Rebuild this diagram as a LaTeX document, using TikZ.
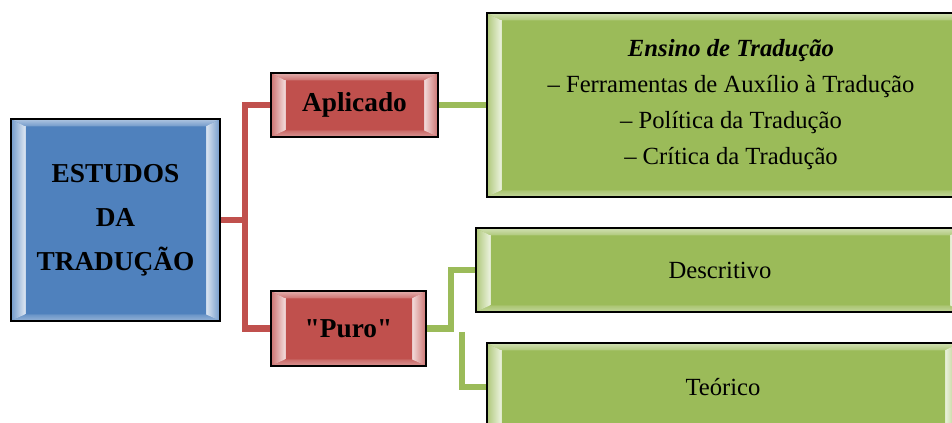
\documentclass[tikz,border=0pt]{standalone}
\usepackage{fontspec}
\setmainfont{Liberation Serif}
% same family without TeX ligature mapping, so that " stays a straight quote
\newfontfamily\plainserif{Liberation Serif}
\usetikzlibrary{calc,backgrounds}

\definecolor{bxblue}{HTML}{4F81BD}
\definecolor{bxred}{HTML}{C0504D}
\definecolor{bxgreen}{HTML}{9BBB59}

\tikzset{
  % rectangle with a bevelled frame: light top/bottom bands and side strips
  bevelbox/.style={rectangle, draw=black, line width=1.4pt, fill=#1,
    inner sep=0pt, align=center, text=black,
    path picture={
      \coordinate (bA) at (path picture bounding box.north west);
      \coordinate (bB) at (path picture bounding box.north east);
      \coordinate (bC) at (path picture bounding box.south east);
      \coordinate (bD) at (path picture bounding box.south west);
      \coordinate (ba) at ($(bA)+(10.5pt,-5.5pt)$);
      \coordinate (bb) at ($(bB)+(-10.5pt,-5.5pt)$);
      \coordinate (bc) at ($(bC)+(-10.5pt,5pt)$);
      \coordinate (bd) at ($(bD)+(10.5pt,5pt)$);
      \shade[top color=#1!45!white, bottom color=#1!80!white]
        (bA) -- (bB) -- (bb) -- (ba) -- cycle;
      \shade[top color=#1!85!white, bottom color=#1!60!white]
        (bD) -- (bC) -- (bc) -- (bd) -- cycle;
      \shade[left color=#1!80!white, right color=#1!20!white]
        (bA) -- (ba) -- (bd) -- (bD) -- cycle;
      \shade[left color=#1!20!white, right color=#1!80!white]
        (bB) -- (bb) -- (bc) -- (bC) -- cycle;
      \draw[white!70!#1, line width=0.6pt] (ba) -- (bd) (bb) -- (bc);
    }},
  boxsize/.style 2 args={minimum width=#1*0.75pt, minimum height=#2*0.75pt},
  headtext/.style={font=\bfseries\fontsize{20.5}{33}\selectfont},
  bodytext/.style={font=\fontsize{18.5}{27}\selectfont},
  redline/.style={draw=bxred, line width=5pt},
  greenline/.style={draw=bxgreen, line width=5pt},
}

\begin{document}
\begin{tikzpicture}[x=0.75pt, y=-0.75pt]
  \useasboundingbox (0,0) rectangle (952,423);
  \clip (0,0) rectangle (952,423);

  % junction columns of the elbow connectors
  \coordinate (rx) at (245,0);
  \coordinate (gx) at (451,0);
  \coordinate (gs) at (462,332);

  % boxes
  \node[bevelbox=bxblue, boxsize={209}{202}, headtext] (est) at (115.5,220)
    {ESTUDOS\\DA\\TRADUÇÃO};
  \node[bevelbox=bxred, boxsize={167}{64}, headtext] (apl) at (354.5,105) {Aplicado};
  \node[bevelbox=bxred, boxsize={155}{75}, headtext] (puro) at (348.5,328.5)
    {\plainserif\bfseries "Puro"};
  \node[bevelbox=bxgreen, boxsize={488}{184}, bodytext] (apdet) at (731,105)
    {\textbf{\textit{Ensino de Tradução}}\\
     – Ferramentas de Auxílio à Tradução\\
     – Política da Tradução\\
     – Crítica da Tradução};
  \node[bevelbox=bxgreen, boxsize={488}{84}, bodytext] (desc) at (720,270) {Descritivo};
  \node[bevelbox=bxgreen, boxsize={472}{88}, bodytext] (teo) at (723,387) {Teórico};

  % connectors, drawn behind the boxes
  \begin{scope}[on background layer]
    \path[redline] (apl.west) -| (rx |- est.east) |- (puro.west);
    \path[redline] (est.east) -- (rx |- est.east);
    \path[greenline] (apl.east) -- (apdet.west);
    \path[greenline] (puro.east) -| (gx |- desc.west) -- (desc.west);
    \path[greenline] (gs) |- (teo.west);
  \end{scope}
\end{tikzpicture}
\end{document}
